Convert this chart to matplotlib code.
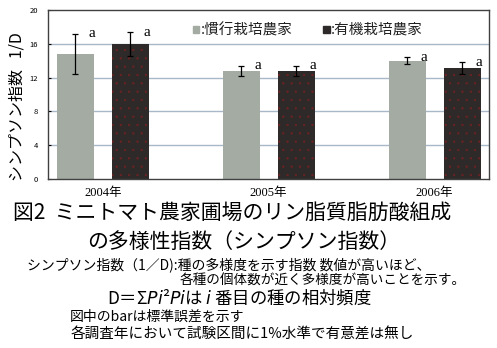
import numpy as np
import matplotlib.pyplot as plt
from matplotlib.patches import Rectangle

plt.rcParams['font.family'] = ['Noto Sans CJK JP', 'DejaVu Sans']
plt.rcParams['hatch.linewidth'] = 0.5

years = ['2004年', '2005年', '2006年']
conv = [14.8, 12.8, 14.0]      # 慣行栽培農家
conv_err = [2.4, 0.6, 0.4]
org = [16.0, 12.8, 13.1]       # 有機栽培農家
org_err = [1.4, 0.6, 0.7]
letters_conv = ['a', 'a', 'a']
letters_org = ['a', 'a', 'a']

fig = plt.figure(figsize=(4.97, 3.48), dpi=100)
ax = fig.add_axes([0.0966, 0.486, 0.888, 0.485])

x = np.arange(len(years))
w = 0.223
off = 0.166
ax.bar(x - off, conv, w, color='#a3aba3', linewidth=0, zorder=2)
ax.bar(x + off, org, w, color='#2e2a2a', edgecolor='#6a2222', hatch='..',
       linewidth=0, zorder=2)
ax.errorbar(x - off, conv, yerr=conv_err, fmt='none', ecolor='black',
            elinewidth=0.9, capsize=2.5, capthick=0.9, zorder=3)
ax.errorbar(x + off, org, yerr=org_err, fmt='none', ecolor='black',
            elinewidth=0.9, capsize=2.5, capthick=0.9, zorder=3)

for i in range(len(years)):
    ax.text(x[i] - off + 0.08, conv[i] + conv_err[i], letters_conv[i],
            family='Liberation Serif', fontsize=11, va='center', ha='left', zorder=4)
    ax.text(x[i] + off + 0.08, org[i] + org_err[i], letters_org[i],
            family='Liberation Serif', fontsize=11, va='center', ha='left', zorder=4)

ax.set_xlim(-0.33, 2.33)
ax.set_ylim(0, 20)
ax.set_yticks([0, 4, 8, 12, 16, 20])
ax.tick_params(axis='y', labelsize=5.5, length=2, direction='in', pad=7)
ax.set_xticks(x)
ax.set_xticklabels(years, fontsize=9)
ax.tick_params(axis='x', length=0, pad=6)
for lab in ax.get_xticklabels():
    lab.set_family(['Liberation Serif', 'Noto Sans CJK JP'])
for yv in [4, 8, 12, 16]:
    ax.axhline(yv, color='#a9b8c8', linewidth=1.0, zorder=1)
for s in ax.spines.values():
    s.set_color('#404040')
    s.set_linewidth(1.0)

ax.set_ylabel('シンプソン指数   1/D', fontsize=11.5)
ax.yaxis.set_label_coords(-0.052, 0.43)

# legend: small squares + text
ax.add_patch(Rectangle((0.329, 0.862), 0.014, 0.042, transform=ax.transAxes,
                       color='#a3aba3', clip_on=False, zorder=5))
ax.text(0.346, 0.882, ':慣行栽培農家', transform=ax.transAxes, fontsize=10.5,
        va='center', color='#222222')
ax.add_patch(Rectangle((0.624, 0.862), 0.014, 0.042, transform=ax.transAxes,
                       color='#2e2a2a', clip_on=False, zorder=5))
ax.text(0.641, 0.882, ':有機栽培農家', transform=ax.transAxes, fontsize=10.5,
        va='center', color='#222222')

fig.text(0.026, 0.388, '図2  ミニトマト農家圃場のリン脂質脂肪酸組成', fontsize=15, va='center')
fig.text(0.175, 0.305, 'の多様性指数（シンプソン指数）', fontsize=15, va='center')
fig.text(0.054, 0.2385, 'シンプソン指数（1／D):種の多様度を示す指数 数値が高いほど、',
         fontsize=10, va='center')
fig.text(0.362, 0.193, '各種の個体数が近く多様度が高いことを示す。', fontsize=9.8, va='center')
fig.text(0.215, 0.144, 'D＝Σ$Pi$²$Pi$は $i$ 番目の種の相対頻度', fontsize=12.5, va='center')
fig.text(0.141, 0.089, '図中のbarは標準誤差を示す', fontsize=10, va='center')
fig.text(0.141, 0.040, '各調査年において試験区間に1%水準で有意差は無し', fontsize=10.5, va='center')

fig.savefig('out.png', dpi=100)
